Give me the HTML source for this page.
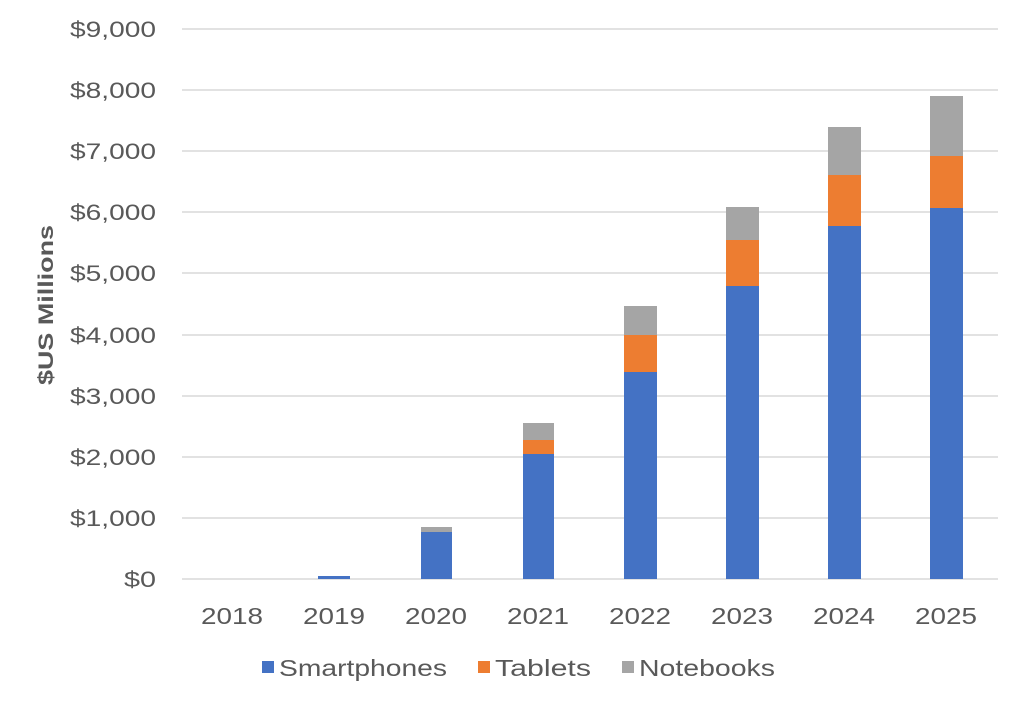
<!DOCTYPE html>
<html><head><style>body{margin:0;background:#fff}svg{display:block}</style></head><body>
<svg width="1024" height="705" xmlns="http://www.w3.org/2000/svg" font-family="Liberation Sans, sans-serif">
<rect width="1024" height="705" fill="#fff"/>
<g stroke="#d9d9d9" stroke-width="1.5">
<line x1="182" x2="998" y1="29" y2="29"/><line x1="182" x2="998" y1="90" y2="90"/>
<line x1="182" x2="998" y1="151" y2="151"/><line x1="182" x2="998" y1="212" y2="212"/>
<line x1="182" x2="998" y1="273" y2="273"/><line x1="182" x2="998" y1="335" y2="335"/>
<line x1="182" x2="998" y1="396" y2="396"/><line x1="182" x2="998" y1="457" y2="457"/>
<line x1="182" x2="998" y1="518" y2="518"/><line x1="182" x2="998" y1="579" y2="579"/>
</g>
<g fill="#595959" font-size="22">
<text x="70" y="37" textLength="86" lengthAdjust="spacingAndGlyphs">$9,000</text><text x="70" y="98" textLength="86" lengthAdjust="spacingAndGlyphs">$8,000</text><text x="70" y="159" textLength="86" lengthAdjust="spacingAndGlyphs">$7,000</text>
<text x="70" y="220" textLength="86" lengthAdjust="spacingAndGlyphs">$6,000</text><text x="70" y="281" textLength="86" lengthAdjust="spacingAndGlyphs">$5,000</text><text x="70" y="343" textLength="86" lengthAdjust="spacingAndGlyphs">$4,000</text>
<text x="70" y="404" textLength="86" lengthAdjust="spacingAndGlyphs">$3,000</text><text x="70" y="465" textLength="86" lengthAdjust="spacingAndGlyphs">$2,000</text><text x="70" y="526" textLength="86" lengthAdjust="spacingAndGlyphs">$1,000</text>
<text x="124" y="587" textLength="32" lengthAdjust="spacingAndGlyphs">$0</text>
</g>
<text transform="translate(53,305) rotate(-90)" text-anchor="middle" font-size="21" font-weight="bold" fill="#595959" textLength="160" lengthAdjust="spacingAndGlyphs">$US Millions</text>
<g>
<rect x="318" y="576" width="32" height="3" fill="#4472c4"/>
<rect x="421" y="532" width="31" height="47" fill="#4472c4"/><rect x="421" y="527" width="31" height="5" fill="#a5a5a5"/>
<rect x="523" y="454" width="31" height="125" fill="#4472c4"/><rect x="523" y="440" width="31" height="14" fill="#ed7d31"/><rect x="523" y="423" width="31" height="17" fill="#a5a5a5"/>
<rect x="624" y="372" width="33" height="207" fill="#4472c4"/><rect x="624" y="335" width="33" height="37" fill="#ed7d31"/><rect x="624" y="306" width="33" height="29" fill="#a5a5a5"/>
<rect x="726" y="286" width="33" height="293" fill="#4472c4"/><rect x="726" y="240" width="33" height="46" fill="#ed7d31"/><rect x="726" y="207" width="33" height="33" fill="#a5a5a5"/>
<rect x="828" y="226" width="33" height="353" fill="#4472c4"/><rect x="828" y="175" width="33" height="51" fill="#ed7d31"/><rect x="828" y="127" width="33" height="48" fill="#a5a5a5"/>
<rect x="930" y="208" width="33" height="371" fill="#4472c4"/><rect x="930" y="156" width="33" height="52" fill="#ed7d31"/><rect x="930" y="96" width="33" height="60" fill="#a5a5a5"/>
</g>
<g fill="#595959" font-size="23">
<text x="201" y="624" textLength="62" lengthAdjust="spacingAndGlyphs">2018</text><text x="303" y="624" textLength="62" lengthAdjust="spacingAndGlyphs">2019</text><text x="405" y="624" textLength="62" lengthAdjust="spacingAndGlyphs">2020</text>
<text x="507" y="624" textLength="62" lengthAdjust="spacingAndGlyphs">2021</text><text x="609" y="624" textLength="62" lengthAdjust="spacingAndGlyphs">2022</text><text x="711" y="624" textLength="62" lengthAdjust="spacingAndGlyphs">2023</text>
<text x="813" y="624" textLength="62" lengthAdjust="spacingAndGlyphs">2024</text><text x="915" y="624" textLength="62" lengthAdjust="spacingAndGlyphs">2025</text>
</g>
<g font-size="23" fill="#595959">
<rect x="262" y="661" width="12" height="12" fill="#4472c4"/><text x="279" y="676" textLength="168" lengthAdjust="spacingAndGlyphs">Smartphones</text>
<rect x="478" y="661" width="12" height="12" fill="#ed7d31"/><text x="495" y="676" textLength="96" lengthAdjust="spacingAndGlyphs">Tablets</text>
<rect x="622" y="661" width="12" height="12" fill="#a5a5a5"/><text x="639" y="676" textLength="136" lengthAdjust="spacingAndGlyphs">Notebooks</text>
</g>
</svg>
</body></html>
